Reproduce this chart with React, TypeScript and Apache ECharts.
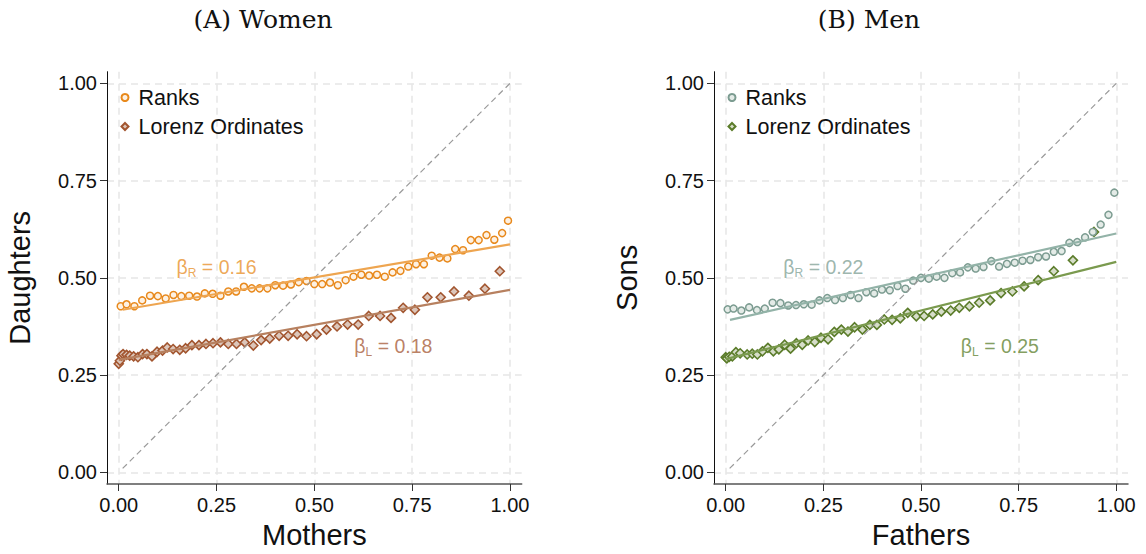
import React, { useEffect, useRef } from "react";
import * as echarts from "echarts";

// ---------- data ----------
const tickValues = [0, 0.25, 0.5, 0.75, 1];

const rankX = [
  0.005, 0.02, 0.04, 0.06, 0.08, 0.1, 0.12, 0.14, 0.16, 0.18, 0.2, 0.22, 0.24, 0.26, 0.28, 0.3, 0.32,
  0.34, 0.36, 0.38, 0.4, 0.42, 0.44, 0.46, 0.48, 0.5, 0.52, 0.54, 0.56, 0.58, 0.6, 0.62, 0.64, 0.66,
  0.68, 0.7, 0.72, 0.74, 0.76, 0.78, 0.8, 0.82, 0.84, 0.86, 0.88, 0.9, 0.92, 0.94, 0.96, 0.98, 0.995,
];

const womenRankY = [
  0.427, 0.432, 0.427, 0.442, 0.454, 0.453, 0.447, 0.456, 0.453, 0.454, 0.452, 0.46, 0.459, 0.454,
  0.465, 0.465, 0.477, 0.473, 0.473, 0.473, 0.481, 0.48, 0.483, 0.489, 0.492, 0.484, 0.484, 0.488,
  0.481, 0.494, 0.503, 0.508, 0.506, 0.508, 0.503, 0.514, 0.518, 0.529, 0.535, 0.535, 0.557, 0.552,
  0.55, 0.574, 0.571, 0.597, 0.597, 0.61, 0.598, 0.615, 0.647,
];

const womenLorenzX = [
  0.0, 0.003, 0.007, 0.011, 0.02, 0.028, 0.038, 0.049, 0.061, 0.072, 0.085, 0.098, 0.112, 0.124,
  0.139, 0.156, 0.171, 0.187, 0.205, 0.223, 0.241, 0.26, 0.28, 0.301, 0.322, 0.344, 0.364, 0.386,
  0.41, 0.433, 0.456, 0.48, 0.506, 0.531, 0.558, 0.585, 0.612, 0.639, 0.668, 0.696, 0.727, 0.757,
  0.789, 0.823, 0.857, 0.895, 0.936, 0.974,
];
const womenLorenzY = [
  0.279, 0.287, 0.3, 0.304, 0.302, 0.3, 0.298, 0.296, 0.304, 0.304, 0.298, 0.31, 0.313, 0.321, 0.317,
  0.315, 0.319, 0.327, 0.327, 0.33, 0.332, 0.334, 0.33, 0.33, 0.334, 0.326, 0.34, 0.344, 0.351, 0.351,
  0.355, 0.35, 0.355, 0.367, 0.375, 0.38, 0.38, 0.402, 0.402, 0.397, 0.423, 0.418, 0.45, 0.45, 0.465,
  0.454, 0.472, 0.517,
];

const menRankY = [
  0.419, 0.421, 0.416, 0.424, 0.417, 0.421, 0.436, 0.435, 0.429, 0.43, 0.432, 0.431, 0.442, 0.448,
  0.443, 0.448, 0.456, 0.448, 0.463, 0.46, 0.47, 0.468, 0.479, 0.472, 0.493, 0.5, 0.498, 0.503, 0.5,
  0.512, 0.514, 0.527, 0.524, 0.528, 0.543, 0.529, 0.536, 0.539, 0.544, 0.546, 0.553, 0.555, 0.567,
  0.569, 0.59, 0.592, 0.604, 0.618, 0.637, 0.662, 0.719,
];

const menLorenzX = [
  0.0, 0.003, 0.009, 0.017, 0.026, 0.037, 0.055, 0.068, 0.081, 0.094, 0.108, 0.122, 0.136, 0.151,
  0.166, 0.181, 0.196, 0.211, 0.228, 0.244, 0.262, 0.278, 0.296, 0.313, 0.33, 0.35, 0.369, 0.387,
  0.406, 0.426, 0.447, 0.466, 0.488, 0.508, 0.53, 0.552, 0.576, 0.598, 0.624, 0.649, 0.677, 0.705,
  0.734, 0.764, 0.8, 0.84, 0.889, 0.943,
];
const menLorenzY = [
  0.296, 0.293, 0.297, 0.298, 0.309, 0.306, 0.303, 0.305, 0.303, 0.311, 0.32, 0.311, 0.316, 0.328,
  0.318, 0.332, 0.328, 0.339, 0.335, 0.346, 0.342, 0.361, 0.367, 0.362, 0.373, 0.367, 0.379, 0.379,
  0.393, 0.392, 0.396, 0.41, 0.401, 0.402, 0.406, 0.413, 0.416, 0.423, 0.427, 0.436, 0.442, 0.461,
  0.465, 0.478, 0.494, 0.517, 0.545, 0.618,
];

// fitted lines (endpoints)
const womenRankFit = [[0.01, 0.418], [1.0, 0.586]];
const womenLorenzFit = [[0.0, 0.289], [1.0, 0.469]];
const menRankFit = [[0.011, 0.392], [1.0, 0.614]];
const menLorenzFit = [[0.0, 0.291], [1.0, 0.541]];
const diagonal = [[0.01, 0.01], [1.0, 1.0]];

// slope labels
const womenBetas = { R: "0.16", L: "0.18" };
const menBetas = { R: "0.22", L: "0.25" };
// where the slope labels sit (data coordinates)
const betaRAnchor = [0.25, 0.527];
const betaLAnchor = [0.702, 0.325];

const zip = (xs: number[], ys: number[]) => xs.map((x, i) => [x, ys[i]]);

const SANS = '"Liberation Sans", Arial, Helvetica, sans-serif';

const panels = [
  {
    title: "(A) Women",
    titleX: 263,
    xName: "Mothers",
    yName: "Daughters",
    grid: { left: 107, top: 71.7, width: 414.7, height: 414 },
    suffix: "",
    rank: { stroke: "#E8891C", fill: "#FDF1E3", line: "#EEA550", text: "#E8922C" },
    lorenz: { stroke: "#A2552F", fill: "#DCC6BA", line: "#B7805F", text: "#A9603D" },
    rankY: womenRankY,
    lorenzX: womenLorenzX,
    lorenzY: womenLorenzY,
    rankFit: womenRankFit,
    lorenzFit: womenLorenzFit,
    betas: womenBetas,
  },
  {
    title: "(B) Men",
    titleX: 869,
    xName: "Fathers",
    yName: "Sons",
    grid: { left: 714, top: 71.7, width: 414, height: 414 },
    suffix: " (M)",
    rank: { stroke: "#7C9C91", fill: "#E4EBE7", line: "#93B3A8", text: "#84A398" },
    lorenz: { stroke: "#5B7C2A", fill: "#D6DDC9", line: "#7A9A4E", text: "#638535" },
    rankY: menRankY,
    lorenzX: menLorenzX,
    lorenzY: menLorenzY,
    rankFit: menRankFit,
    lorenzFit: menLorenzFit,
    betas: menBetas,
  },
];

function betaLabel(sub: string, value: string, color: string) {
  return {
    show: true,
    position: "inside",
    formatter: `{b|β}{s|${sub}}{b| = ${value}}`,
    textBorderWidth: 0,
    color,
    rich: {
      b: { fontSize: 19.5, lineHeight: 24, color, fontFamily: SANS },
      s: { fontSize: 12, lineHeight: 10, verticalAlign: "bottom", color, fontFamily: SANS },
    },
  };
}

function buildOption() {
  const grids: any[] = [];
  const xAxes: any[] = [];
  const yAxes: any[] = [];
  const series: any[] = [];
  const legends: any[] = [];
  const graphics: any[] = [];

  panels.forEach((p, i) => {
    grids.push({ ...p.grid, containLabel: false });
    const common = {
      type: "value",
      gridIndex: i,
      min: -0.03,
      max: 1.03,
      axisTick: { show: true, length: 7, customValues: tickValues, lineStyle: { color: "#333", width: 1 } },
      splitLine: { show: true, lineStyle: { color: "#e6e6e6", type: [7, 5], width: 1.5 } },
      nameLocation: "middle",
      nameTextStyle: { fontSize: 29, fontFamily: SANS, color: "#111" },
    };
    xAxes.push({
      ...common,
      name: p.xName,
      nameGap: 36,
      axisLine: { show: true, onZero: false, lineStyle: { color: "#555", width: 1.5 } },
      axisLabel: {
        customValues: tickValues,
        formatter: (v: number) => v.toFixed(2),
        fontSize: 20,
        fontFamily: SANS,
        color: "#111",
        margin: 11,
      },
    });
    yAxes.push({
      ...common,
      name: p.yName,
      nameGap: 73,
      axisLine: { show: true, onZero: false, lineStyle: { color: "#111", width: 1 } },
      axisLabel: {
        customValues: tickValues,
        formatter: (v: number) => v.toFixed(2),
        fontSize: 20,
        fontFamily: SANS,
        color: "#111",
        margin: 10,
      },
    });

    const rankName = "Ranks" + p.suffix;
    const lorenzName = "Lorenz Ordinates" + p.suffix;

    series.push({
      type: "line",
      xAxisIndex: i,
      yAxisIndex: i,
      data: diagonal,
      showSymbol: false,
      silent: true,
      lineStyle: { color: "#9a9a9a", width: 1.2, type: [6, 4] },
    });
    series.push({
      type: "line",
      xAxisIndex: i,
      yAxisIndex: i,
      data: p.rankFit,
      showSymbol: false,
      silent: true,
      lineStyle: { color: p.rank.line, width: 2.2 },
    });
    series.push({
      type: "line",
      xAxisIndex: i,
      yAxisIndex: i,
      data: p.lorenzFit,
      showSymbol: false,
      silent: true,
      lineStyle: { color: p.lorenz.line, width: 2.2 },
    });
    series.push({
      type: "scatter",
      name: lorenzName,
      xAxisIndex: i,
      yAxisIndex: i,
      data: zip(p.lorenzX, p.lorenzY),
      symbol: "diamond",
      symbolSize: 9,
      itemStyle: { color: p.lorenz.fill, borderColor: p.lorenz.stroke, borderWidth: 1.6, opacity: 1 },
      emphasis: { disabled: true },
    });
    series.push({
      type: "scatter",
      name: rankName,
      xAxisIndex: i,
      yAxisIndex: i,
      data: zip(rankX, p.rankY),
      symbol: "circle",
      symbolSize: 7,
      itemStyle: { color: p.rank.fill, borderColor: p.rank.stroke, borderWidth: 1.5, opacity: 1 },
      emphasis: { disabled: true },
    });
    series.push({
      type: "scatter",
      xAxisIndex: i,
      yAxisIndex: i,
      data: [betaRAnchor],
      symbolSize: 1,
      silent: true,
      itemStyle: { color: "transparent" },
      label: betaLabel("R", p.betas.R, p.rank.text),
      emphasis: { disabled: true },
    });
    series.push({
      type: "scatter",
      xAxisIndex: i,
      yAxisIndex: i,
      data: [betaLAnchor],
      symbolSize: 1,
      silent: true,
      itemStyle: { color: "transparent" },
      label: betaLabel("L", p.betas.L, p.lorenz.text),
      emphasis: { disabled: true },
    });

    legends.push({
      orient: "vertical",
      left: p.grid.left + 13.5,
      top: 86.5,
      padding: 0,
      itemWidth: 7,
      itemHeight: 7,
      itemGap: 7,
      selectedMode: false,
      data: [
        { name: rankName, icon: "circle" },
        { name: lorenzName, icon: "diamond" },
      ],
      formatter: (name: string) => name.replace(" (M)", ""),
      textStyle: { fontSize: 21.5, lineHeight: 22, fontFamily: SANS, color: "#111", padding: [0, 0, 0, 5] },
    });

    graphics.push({
      type: "text",
      x: p.titleX,
      y: 19,
      silent: true,
      style: {
        text: p.title,
        fontSize: 25,
        fontFamily: '"DejaVu Serif", "Liberation Serif", serif',
        fill: "#111",
        align: "center",
        verticalAlign: "middle",
      },
    });
  });

  return {
    animation: false,
    backgroundColor: "#ffffff",
    grid: grids,
    xAxis: xAxes,
    yAxis: yAxes,
    legend: legends,
    series,
    graphic: graphics,
  };
}

export default function App() {
  const ref = useRef<HTMLDivElement>(null);
  useEffect(() => {
    if (!ref.current) return;
    const chart = echarts.init(ref.current, null, { renderer: "svg" });
    chart.setOption(buildOption() as any);
    return () => chart.dispose();
  }, []);
  return (
    <div
      ref={ref}
      style={{ position: "fixed", left: 0, top: 0, width: 1146, height: 554, background: "#fff" }}
    />
  );
}
